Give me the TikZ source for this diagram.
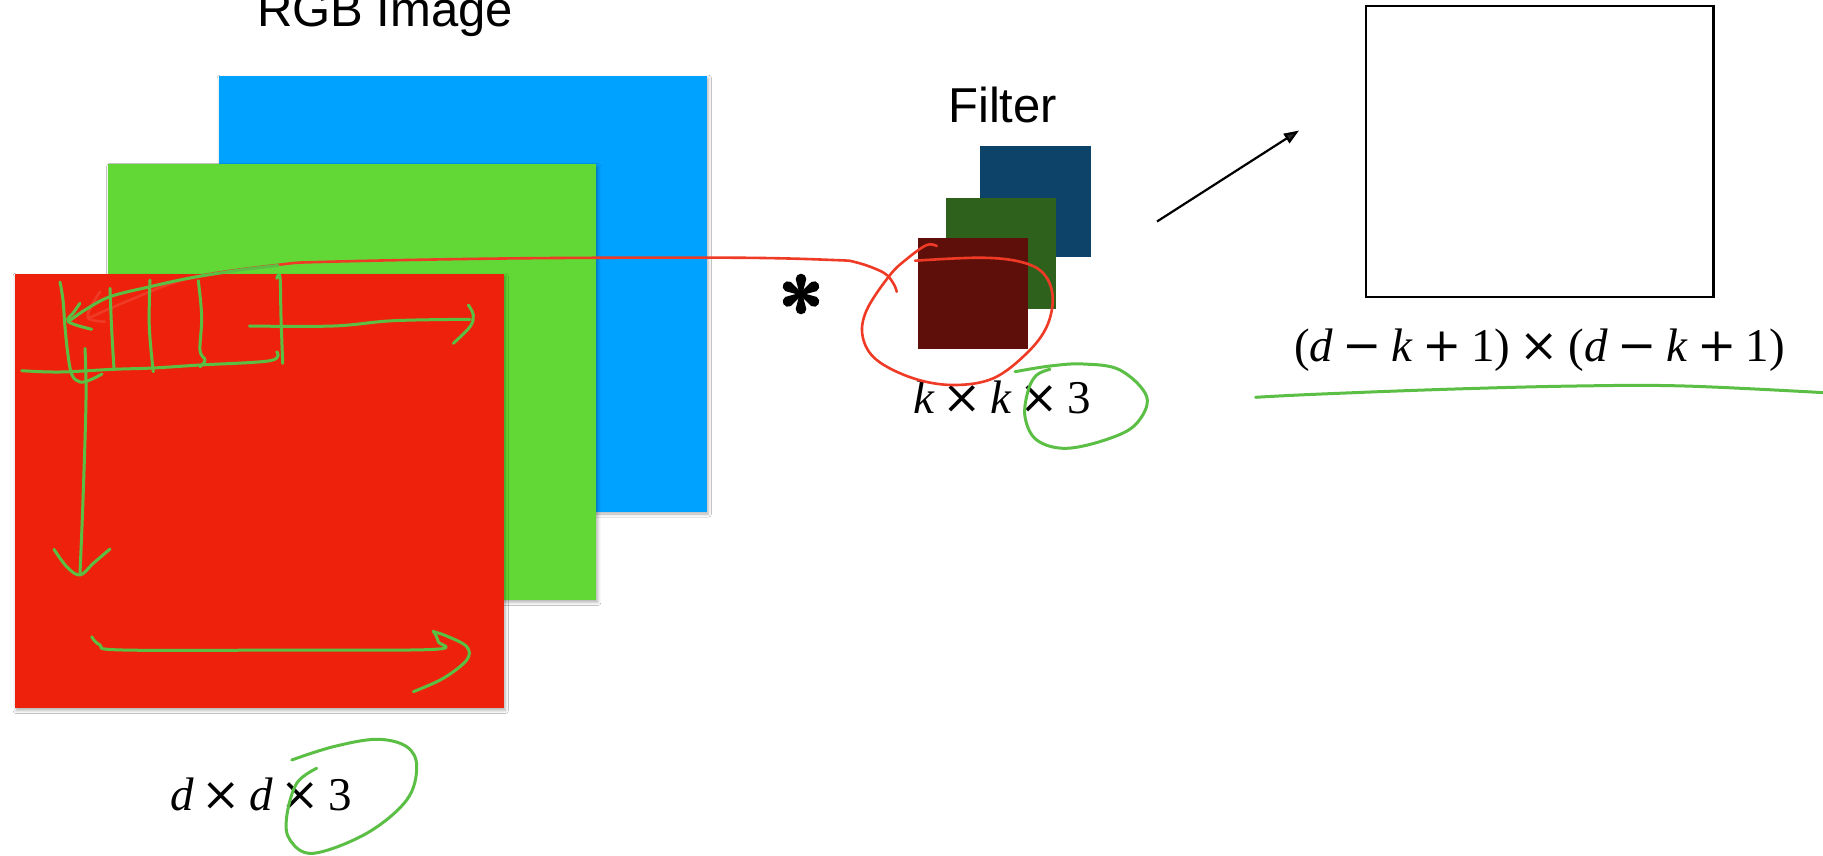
\documentclass[tikz,border=0pt]{standalone}
\usepackage{fontspec}
\setmainfont{Liberation Serif}
\newfontfamily\labelfont{Liberation Sans}
\newfontfamily\opfont{DejaVu Serif}
\usetikzlibrary{arrows.meta,shadows.blur}
\definecolor{imgblue}{HTML}{00A2FF}
\definecolor{imggreen}{HTML}{61D836}
\definecolor{imgred}{HTML}{EE220C}
\definecolor{fltblue}{HTML}{0D4368}
\definecolor{fltgreen}{HTML}{2E621C}
\definecolor{fltred}{HTML}{5E0F0A}
\definecolor{inkgreen}{HTML}{5CBF45}
\definecolor{inkred}{HTML}{EF3B26}
\newcommand\bop[1]{\hspace{0.17em}{\opfont #1}\hspace{0.17em}}
\newcommand\wop[1]{\hspace{0.2em}{\opfont #1}\hspace{0.2em}}
\begin{document}
\begin{tikzpicture}[x=1pt,y=-1pt,
  layer/.style={blur shadow={shadow xshift=1.5pt,shadow yshift=-2.5pt,shadow blur radius=3pt,shadow opacity=30}},
  greenink/.style={draw=inkgreen,line width=3pt,line cap=round,line join=round},
  redink/.style={draw=inkred,line width=2.6pt,line cap=round,line join=round},
  title/.style={font=\labelfont\fontsize{49}{58}\selectfont,inner sep=0pt,anchor=base west},
  dimtext/.style={font=\fontsize{47}{56}\selectfont,inner sep=0pt,anchor=base west},
]
\useasboundingbox (0,0) rectangle (1823,855);
\fill[white] (0,0) rectangle (1823,855);

% RGB image layers
\path[fill=imgblue,layer] (218.6,75.6) rectangle (706.9,511.5);
\path[fill=imggreen,layer] (108.1,163.9) rectangle (596.4,599.9);
\path[fill=imgred,layer] (14.5,273.5) rectangle (503.8,708);

% filter layers
\fill[fltblue] (980,146) rectangle (1091,256.7);
\fill[fltgreen] (946,198) rectangle (1056,308.7);
\fill[fltred] (918,238) rectangle (1028,348.7);

% labels
\node[title] (rgb) at (257,26) {RGB Image};
\node[title] (filt) at (948,122) {Filter};
\node[dimtext] (dimimg) at (170,810) {\textit{d}\bop{×}\textit{d}\bop{×}3};
\node[dimtext] (dimflt) at (913,413.3) {\textit{k}\bop{×}\textit{k}\bop{×}3};
\node[dimtext] (dimout) at (1294,361.7) {(\textit{d}\wop{−}\textit{k}\wop{+}1)\wop{×}(\textit{d}\wop{−}\textit{k}\wop{+}1)};

% convolution asterisk
\foreach \a in {90,30,-30,-90,-150,150}
  \fill[shift={(801,294)},rotate=\a] (0,-1.4) -- (15,-5.3) arc[start angle=-90,end angle=90,radius=5.3] -- (0,1.4) -- cycle;

% output
\node[draw,line width=2.2pt,inner sep=0pt,minimum width=347.6pt,minimum height=290.5pt,anchor=north west] (outbox) at (1364.8,5.1) {};
\coordinate (arrS) at (1157,221.5);
\coordinate (arrE) at (1299,130.5);
\draw[line width=2.2pt,-{Triangle[length=15pt,width=11pt]}] (arrS) -- (arrE);

% red ink
\draw[redink] plot[smooth,tension=0.6] coordinates {(896.7,291.7) (893.3,283.3) (883.3,272.5) (856.7,262.5) (833,260) (733,257.7) (520,258.3) (330,261.7) (276.7,265) (190,278) (130,300) (88.3,318.3)};
\draw[redink] plot[smooth,tension=0.6] coordinates {(100,291.7) (92,305) (88.3,318.3) (105,321.7)};
\draw[redink] plot[smooth,tension=0.6] coordinates {(936.7,246) (926.7,245) (908,258) (890,275) (866.7,310) (862.7,336.7) (876.7,360) (913.3,378.3) (953.3,385) (993.3,378.3) (1026.7,353.3) (1046.7,326.7) (1052.7,296.7) (1043.3,273.3) (1020,261.7) (980,257.7) (915,260.7)};

% green ink on image
\draw[greenink] plot[smooth,tension=0.6] coordinates {(68.3,321.7) (85,310) (110,296.7) (150,286.7) (190,278) (240,270) (278,265.5)};
\draw[greenink] plot[smooth,tension=0.6] coordinates {(80,303.3) (74,312) (68.3,321.7) (91.7,329.3)};
\draw[greenink] plot[smooth,tension=0.6] coordinates {(60,282) (63,300) (65,327) (68,355) (72,375) (80,382) (90,380) (102,374)};
\draw[greenink] plot[smooth,tension=0.6] coordinates {(21.7,370.7) (60,372) (113.3,369.3) (153,368) (200,365) (270,360.7) (276.7,351.7)};
\draw[greenink] plot[smooth,tension=0.6] coordinates {(110,288.3) (111.7,330) (114,368.3)};
\draw[greenink] plot[smooth,tension=0.6] coordinates {(150,280) (149.3,326.7) (153.3,371.7)};
\draw[greenink] plot[smooth,tension=0.6] coordinates {(198.3,280.7) (201.7,316.7) (200,350) (205,360) (200,366.7)};
\draw[greenink] plot[smooth,tension=0.6] coordinates {(276.7,278.3) (280,277.3) (281,316.7) (282.7,363.3)};
\draw[greenink] plot[smooth,tension=0.6] coordinates {(249.3,326) (333.3,326) (393.3,320.7) (470,319.3)};
\draw[greenink] plot[smooth,tension=0.6] coordinates {(468.3,305) (473.3,315) (470,326.7) (453.3,343.3)};
\draw[greenink] plot[smooth,tension=0.6] coordinates {(85,348.3) (86,400) (83,500) (80,573.3)};
\draw[greenink] plot[smooth,tension=0.6] coordinates {(54,549.3) (66.7,566.7) (80,575) (93.3,563.3) (110,549)};
\draw[greenink] plot[smooth,tension=0.6] coordinates {(91.7,636.7) (100,645) (123,650) (300,650) (435,649.3) (438.3,641.7) (433.3,631)};
\draw[greenink] plot[smooth,tension=0.6] coordinates {(433.3,631.7) (446.7,636) (466.7,646.7) (466.7,660) (443.3,678.3) (413.3,691.7)};
\draw[greenink] plot[smooth,tension=0.6] coordinates {(291.7,760) (333.3,746.7) (376.7,739.3) (406.7,746.7) (416.7,766.7) (406.7,800) (366.7,833.3) (313.3,853.3) (290,840) (286.7,816.7) (296.7,783.3) (316.7,768.3)};

% green ink on filter and output
\draw[greenink] plot[smooth,tension=0.6] coordinates {(1015,371.7) (1050,366) (1083.3,364) (1120,370) (1146.7,396.7) (1136.7,423.3) (1110,438.3) (1066.7,448.3) (1036.7,440) (1025,416.7) (1028.3,390) (1036.7,375) (1050,369.3)};
\draw[greenink] plot[smooth,tension=0.6] coordinates {(1255.6,397.3) (1314.4,394.3) (1445.3,389.3) (1576.1,386) (1685,386) (1830,393)};
\end{tikzpicture}
\end{document}
